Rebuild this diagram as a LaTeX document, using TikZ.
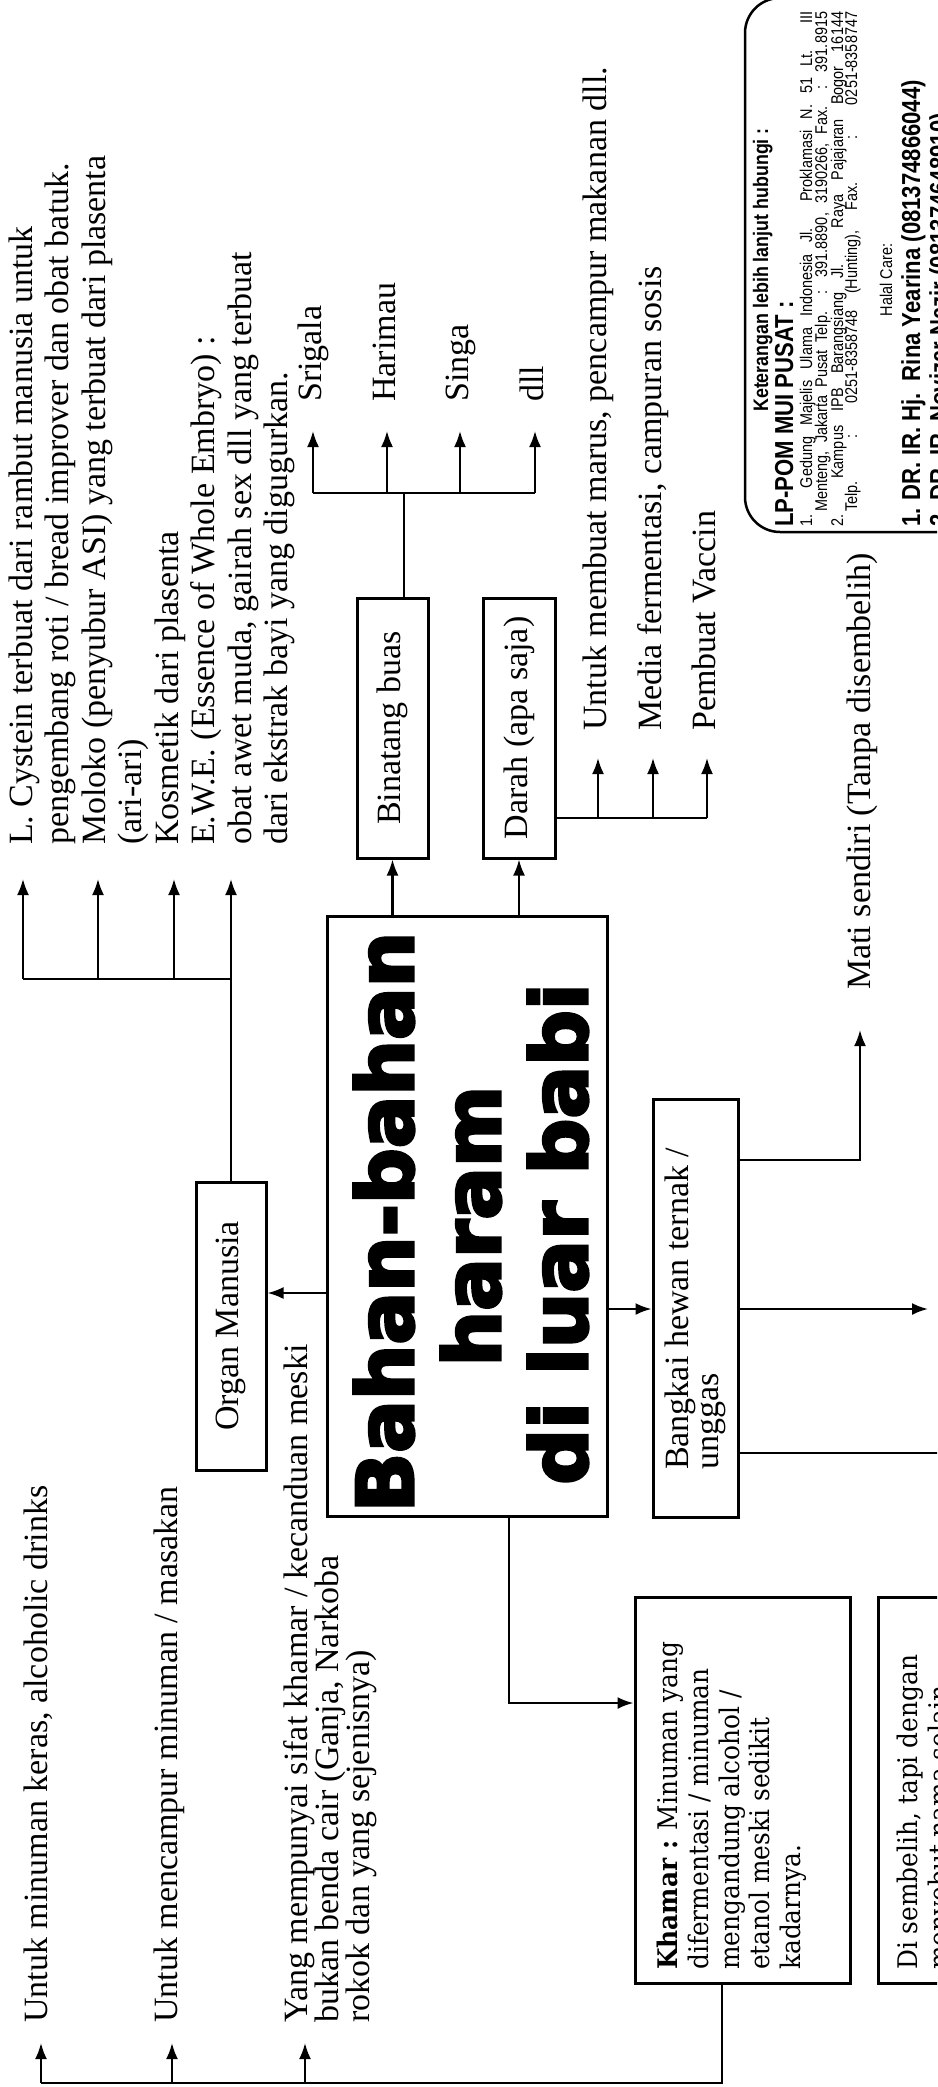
\documentclass[tikz,border=0pt]{standalone}
\usepackage{fontspec}
\usepackage{graphicx}
\setmainfont{Liberation Serif}
\newfontfamily\titlefont{DejaVu Sans}[BoldFeatures={FakeBold=4}]
\newfontfamily\kfont{DejaVu Serif}[FakeStretch=0.92]
\newfontfamily\cfont{Liberation Sans}[FakeStretch=0.85]
\usetikzlibrary{arrows.meta}
\newcommand\mybody{\fontsize{34}{36.5}\selectfont}
\newcommand\mytitle{\titlefont\bfseries\fontsize{78}{78}\selectfont}
\newcommand\mykham{\kfont\fontsize{27}{30}\selectfont}
\newcommand\mysmall{\cfont\fontsize{17}{17}\selectfont}
\tikzset{
  conn/.style={line width=2.2pt},
  arr/.style={conn, -{Latex[length=16pt,width=12pt]}},
  box/.style={draw, line width=3pt, inner sep=0pt},
  lbl/.style={rotate=90, anchor=base west, inner sep=0pt, font=\mybody},
  klbl/.style={rotate=90, anchor=base west, inner sep=0pt, font=\mykham},
  clbl/.style={rotate=90, anchor=base west, inner sep=0pt},
  ttl/.style={rotate=90, anchor=base, inner sep=0pt, font=\mytitle},
}
\begin{document}
\begin{tikzpicture}[x=1pt,y=-1pt]
\useasboundingbox (0,0) rectangle (937,2087);
\fill[white] (0,0) rectangle (937,2087);
\clip (0,0) rectangle (937,2087);

% ---------------- boxes ----------------
\node[box, minimum width=280pt, minimum height=600pt] (bahan) at (467,1216) {};
\node[box, minimum width=71pt, minimum height=260pt] (bin) at (392.5,728) {\rotatebox{90}{\mybody Binatang buas}};
\node[box, minimum width=72pt, minimum height=260pt] (darah) at (519,728) {\rotatebox{90}{\mybody Darah (apa saja)}};
\node[box, minimum width=70pt, minimum height=288pt] (organ) at (231,1326) {\rotatebox{90}{\mybody Organ Manusia}};
\node[box, minimum width=85pt, minimum height=418pt] (bangkai) at (695.5,1308) {};
\node[box, minimum width=215pt, minimum height=386pt] (khamar) at (742.5,1790) {};
\node[box, minimum width=122pt, minimum height=386pt] (sembelih) at (939,1790) {};
\node[draw, line width=2.5pt, rounded corners=35pt, minimum width=255pt, minimum height=534pt, inner sep=0pt] (contact) at (872.5,265) {};

% ---------------- title ----------------
\node[ttl] (t1) at (413,1222) {Bahan-bahan};
\node[ttl] (t2) at (500,1226) {haram};
\node[ttl] (t3) at (587,1234) {di luar babi};

% ---------------- coordinates ----------------
\coordinate (tA) at (23,879);
\coordinate (tB) at (98,879);
\coordinate (tC) at (174,879);
\coordinate (tD) at (231,879);
\coordinate (ybarTL) at (0,979);
\coordinate (sA) at (313,431);
\coordinate (sB) at (387,431);
\coordinate (sC) at (460,431);
\coordinate (sD) at (535,431);
\coordinate (ysb) at (0,493);
\coordinate (sstem) at (404,0);
\coordinate (dA) at (598,758);
\coordinate (dB) at (653,758);
\coordinate (dC) at (707,758);
\coordinate (ydb) at (0,818);
\coordinate (yorg) at (0,1293);
\coordinate (ybk) at (0,1309);
\coordinate (rtip) at (928,1309);
\coordinate (ymati) at (0,1160);
\coordinate (mtip) at (860,1030);
\coordinate (lowend) at (945,1453);
\coordinate (kx) at (509,1703);
\coordinate (kstem) at (722,0);
\coordinate (ybot) at (0,2083);
\coordinate (bA) at (41,2043);
\coordinate (bB) at (172,2043);
\coordinate (bC) at (305,2043);

% ---------------- connectors ----------------
\draw[arr] (organ.north) -- (tD);
\draw[conn] (organ.north |- ybarTL) -- (tA |- ybarTL);
\draw[arr] (tA |- ybarTL) -- (tA);
\draw[arr] (tB |- ybarTL) -- (tB);
\draw[arr] (tC |- ybarTL) -- (tC);
\draw[arr] (bahan.west |- yorg) -- (organ.east |- yorg);
\draw[arr] (bahan.north -| bin.center) -- (bin.south);
\draw[conn] (bin.north -| sstem) -- (sstem |- ysb);
\draw[conn] (sA |- ysb) -- (sD |- ysb);
\draw[arr] (sA |- ysb) -- (sA);
\draw[arr] (sB |- ysb) -- (sB);
\draw[arr] (sC |- ysb) -- (sC);
\draw[arr] (sD |- ysb) -- (sD);
\draw[arr] (bahan.north -| darah.center) -- (darah.south);
\draw[conn] (darah.east |- ydb) -- (dC |- ydb);
\draw[arr] (dA |- ydb) -- (dA);
\draw[arr] (dB |- ydb) -- (dB);
\draw[arr] (dC |- ydb) -- (dC);
\draw[arr] (bahan.east |- ybk) -- (bangkai.west |- ybk);
\draw[arr] (bangkai.east |- ybk) -- (rtip);
\draw[arr] (bangkai.east |- ymati) -| (mtip);
\draw[conn] (bangkai.east |- lowend) -- (lowend);
\draw[arr] (bahan.south -| kx) |- (khamar.west |- kx);
\draw[conn] (khamar.south -| kstem) |- (bA |- ybot);
\draw[arr] (bA |- ybot) -- (bA);
\draw[arr] (bB |- ybot) -- (bB);
\draw[arr] (bC |- ybot) -- (bC);

% ---------------- texts ----------------
\node[lbl] (p1) at (32,845) {L. Cystein terbuat dari rambut manusia untuk};
\node[lbl] (p2) at (68.5,845) {pengembang roti / bread improver dan obat batuk.};
\node[lbl] (p3) at (105,845) {Moloko (penyubur ASI) yang terbuat dari plasenta};
\node[lbl] (p4) at (141.5,845) {(ari-ari)};
\node[lbl] (p5) at (178,845) {Kosmetik dari plasenta};
\node[lbl] (p6) at (214.5,845) {E.W.E. (Essence of Whole Embryo) :};
\node[lbl] (p7) at (251,845) {obat awet muda, gairah sex dll yang terbuat};
\node[lbl] (p8) at (287.5,845) {dari ekstrak bayi yang digugurkan.};

\node[lbl] (srigala) at (321,402) {Srigala};
\node[lbl] (harimau) at (395,402) {Harimau};
\node[lbl] (singa) at (468,402) {Singa};
\node[lbl] (dll) at (543,402) {dll};

\node[lbl] (m1) at (606,731) {Untuk membuat marus, pencampur makanan dll.};
\node[lbl] (m2) at (661,731) {Media fermentasi, campuran sosis};
\node[lbl] (m3) at (715,731) {Pembuat Vaccin};

\node[lbl] (mati) at (870,990) {Mati sendiri (Tanpa disembelih)};

\node[lbl] (bk1) at (688,1470) {Bangkai hewan ternak /};
\node[lbl] (bk2) at (718,1470) {unggas};

\node[klbl] (k1) at (677,1970) {\textbf{Khamar :} Minuman yang};
\node[klbl] (k2) at (708,1970) {difermentasi / minuman};
\node[klbl] (k3) at (739,1970) {mengandung alcohol /};
\node[klbl] (k4) at (769,1970) {etanol meski sedikit};
\node[klbl] (k5) at (800,1970) {kadarnya.};

\node[klbl] (d1) at (917,1970) {Di sembelih, tapi dengan};
\node[klbl] (d2) at (948,1970) {menyebut nama selain};

\node[lbl] (u1) at (47,2023) {Untuk minuman keras, alcoholic drinks};
\node[lbl] (u2) at (177,2023) {Untuk mencampur minuman / masakan};
\node[lbl] (y1) at (307,2023) {Yang mempunyai sifat khamar / kecanduan meski};
\node[lbl] (y2) at (338,2023) {bukan benda cair (Ganja, Narkoba};
\node[lbl] (y3) at (369,2023) {rokok dan yang sejenisnya)};

% ---------------- contact box text ----------------
\node[rotate=90, anchor=base, inner sep=0pt, font=\cfont\bfseries\fontsize{21}{21}\selectfont] (c1) at (768,270) {Keterangan lebih lanjut hubungi :};
\node[clbl, font=\cfont\bfseries\fontsize{26}{26}\selectfont] (c2) at (793,527) {LP-POM MUI PUSAT :};
\node[clbl, font=\mysmall] (c3) at (812,527) {\makebox[515pt][s]{1. Gedung Majelis Ulama Indonesia Jl. Proklamasi N. 51 Lt. III}};
\node[clbl, font=\mysmall] (c4) at (827,512) {\makebox[500pt][s]{Menteng, Jakarta Pusat Telp. : 391.8890, 3190266, Fax. : 391.8915}};
\node[clbl, font=\mysmall] (c5) at (843,527) {\makebox[515pt][s]{2. Kampus IPB Barangsiang Jl. Raya Pajajaran Bogor 16144}};
\node[clbl, font=\mysmall] (c6) at (857,512) {\makebox[500pt][s]{Telp. : 0251-8358748 (Hunting), Fax. : 0251-8358747}};
\node[rotate=90, anchor=base, inner sep=0pt, font=\mysmall] (c7) at (892,280) {Halal Care:};
\node[clbl, font=\cfont\bfseries\fontsize{26}{26}\selectfont] (c8) at (920,527) {1. DR. IR. Hj.\ \ Rina Yearina (081374866044)};
\node[clbl, font=\cfont\bfseries\fontsize{26}{26}\selectfont] (c9) at (948,527) {2. DR. IR. Novizar Nazir (081374648910)};
\end{tikzpicture}
\end{document}
